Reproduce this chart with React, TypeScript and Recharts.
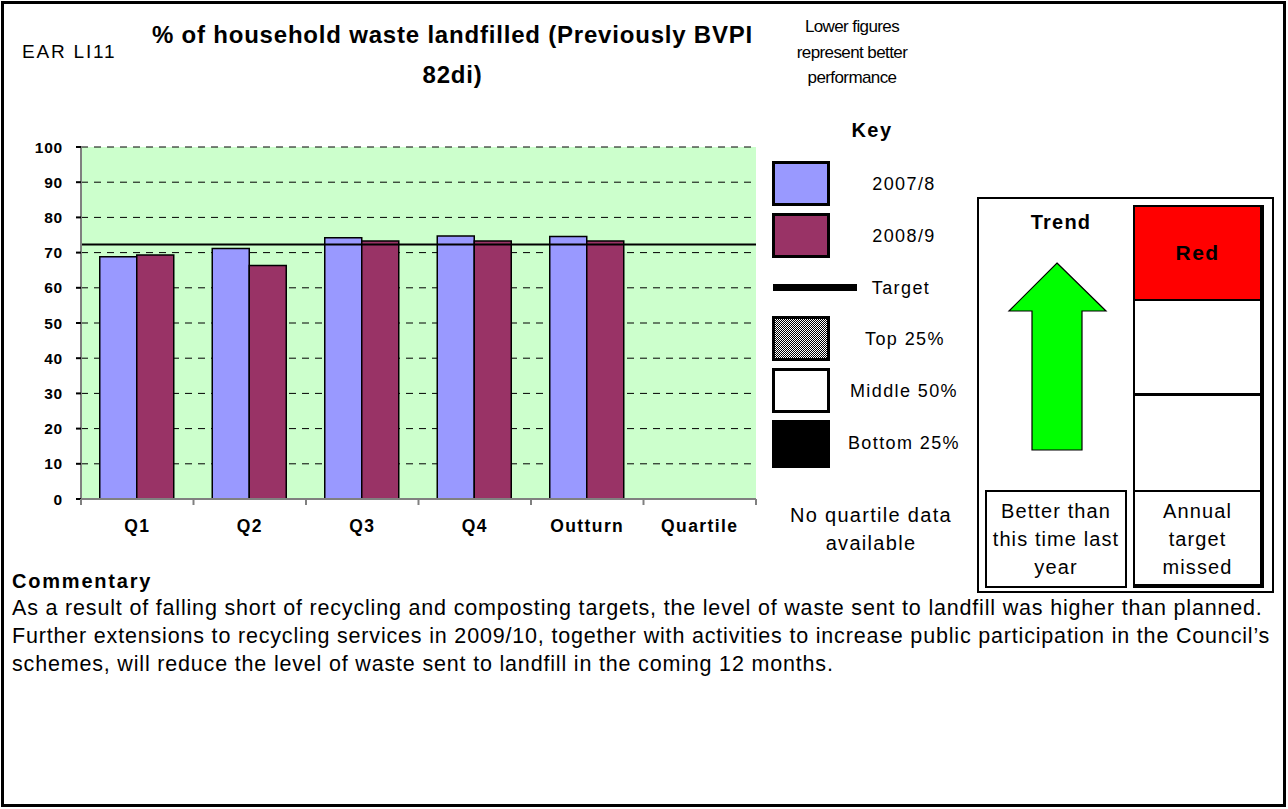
import React from 'react';
import {
  BarChart,
  Bar,
  XAxis,
  YAxis,
  CartesianGrid,
  ReferenceLine,
} from 'recharts';

const CATEGORIES = ['Q1', 'Q2', 'Q3', 'Q4', 'Outturn', 'Quartile'];
const SERIES_2007 = [68.8, 71.2, 74.2, 74.7, 74.6, null];
const SERIES_2008 = [69.3, 66.3, 73.3, 73.3, 73.3, null];
const TARGET = 72.3;
const Y_TICKS = [0, 10, 20, 30, 40, 50, 60, 70, 80, 90, 100];

const FONT = '"Liberation Sans", Arial, sans-serif';

const chartData = CATEGORIES.map((name, i) => ({
  name,
  y2007: SERIES_2007[i],
  y2008: SERIES_2008[i],
}));

const BAND = 675 / CATEGORIES.length;

// Excel-style ticks sit between categories, labels in the middle
function CategoryTick(props: any) {
  const { x, y, payload, index } = props;
  return (
    <g>
      {index === 0 && <line x1={x - BAND / 2} y1={y - 8} x2={x - BAND / 2} y2={y - 2} stroke="#808080" strokeWidth={2} />}
      <line x1={x + BAND / 2} y1={y - 8} x2={x + BAND / 2} y2={y - 2} stroke="#808080" strokeWidth={2} />
      <text
        x={x}
        y={y + 25}
        textAnchor="middle"
        fontFamily={FONT}
        fontWeight="bold"
        fontSize={17.5}
        style={{ letterSpacing: '1.4px' }}
        fill="#000"
      >
        {payload.value}
      </text>
    </g>
  );
}

function ValueTick(props: any) {
  const { x, y, payload } = props;
  return (
    <text
      x={x - 11}
      y={y + 5.5}
      textAnchor="end"
      fontFamily={FONT}
      fontWeight="bold"
      fontSize={15.5}
      style={{ letterSpacing: '0.8px' }}
      fill="#000"
    >
      {payload.value}
    </text>
  );
}

const abs = (left: number, top: number, extra: React.CSSProperties = {}): React.CSSProperties => ({
  position: 'absolute',
  left,
  top,
  ...extra,
});

function Swatch({ top, style }: { top: number; style: React.CSSProperties }) {
  return (
    <div
      style={abs(772, top, {
        width: 58,
        height: 45,
        boxSizing: 'border-box',
        border: '3px solid #000',
        ...style,
      })}
    />
  );
}

function KeyLabel({ cx, cy, text }: { cx: number; cy: number; text: string }) {
  return (
    <div
      style={abs(cx - 80, cy - 11, {
        width: 160,
        textAlign: 'center',
        fontSize: 18,
        letterSpacing: '1.4px',
        lineHeight: '22px',
      })}
    >
      {text}
    </div>
  );
}

export default function App() {
  return (
    <div
      style={{
        position: 'fixed',
        left: 0,
        top: 0,
        width: 1288,
        height: 809,
        background: '#fff',
        fontFamily: FONT,
        color: '#000',
      }}
    >
      {/* outer frame */}
      <div style={abs(1, 1, { width: 1285, height: 806, boxSizing: 'border-box', border: '3px solid #000' })} />

      {/* header */}
      <div style={abs(22, 41, { fontSize: 19, letterSpacing: '1.8px', lineHeight: '22px' })}>EAR LI11</div>
      <div
        style={abs(130, 15, {
          width: 645,
          textAlign: 'center',
          fontSize: 24,
          fontWeight: 'bold',
          letterSpacing: '0.8px',
          lineHeight: '40px',
          whiteSpace: 'nowrap',
        })}
      >
        % of household waste landfilled (Previously BVPI
        <br />
        82di)
      </div>
      <div
        style={abs(762, 14, {
          width: 180,
          textAlign: 'center',
          fontSize: 17,
          letterSpacing: '-0.6px',
          lineHeight: '25.5px',
          whiteSpace: 'nowrap',
        })}
      >
        Lower figures
        <br />
        represent better
        <br />
        performance
      </div>

      {/* chart */}
      <div style={abs(0, 130)}>
        <BarChart
          width={770}
          height={420}
          data={chartData}
          margin={{ top: 17, right: 14, bottom: 21, left: 41 }}
          barCategoryGap="16.67%"
          barGap={0}
        >
          <CartesianGrid
            vertical={false}
            fill="#ccffcc"
            stroke="#000"
            strokeDasharray="7 6"
            strokeWidth={1}
          />
          <XAxis
            dataKey="name"
            height={30}
            stroke="#808080"
            strokeWidth={2}
            tickLine={false}
            interval={0}
            tick={<CategoryTick />}
          />
          <YAxis
            width={40}
            domain={[0, 100]}
            ticks={Y_TICKS}
            interval={0}
            stroke="#808080"
            strokeWidth={2}
            tickSize={5}
            tickLine={{ stroke: '#000' }}
            tick={<ValueTick />}
          />
          <Bar dataKey="y2007" fill="#9999ff" stroke="#000" strokeWidth={1.5} isAnimationActive={false} />
          <Bar dataKey="y2008" fill="#993366" stroke="#000" strokeWidth={1.5} isAnimationActive={false} />
          <ReferenceLine y={TARGET} stroke="#000" strokeWidth={2} />
        </BarChart>
      </div>

      {/* key */}
      <div style={abs(812, 118, { width: 120, textAlign: 'center', fontSize: 20, fontWeight: 'bold', letterSpacing: '1.5px', lineHeight: '24px' })}>
        Key
      </div>
      <Swatch top={161} style={{ background: '#9999ff' }} />
      <KeyLabel cx={904} cy={184} text="2007/8" />
      <Swatch top={213} style={{ background: '#993366' }} />
      <KeyLabel cx={904} cy={236} text="2008/9" />
      <div style={abs(773, 284, { width: 84, height: 7, background: '#000' })} />
      <KeyLabel cx={901} cy={288} text="Target" />
      <Swatch
        top={316}
        style={{ background: 'repeating-conic-gradient(#000 0 25%, #fff 0 50%) 0 0 / 2px 2px' }}
      />
      <KeyLabel cx={905} cy={339} text="Top 25%" />
      <Swatch top={368} style={{ background: '#fff' }} />
      <KeyLabel cx={904} cy={391} text="Middle 50%" />
      <Swatch top={420} style={{ background: '#000', height: 48 }} />
      <KeyLabel cx={904} cy={443} text="Bottom 25%" />
      <div style={abs(781, 501, { width: 180, textAlign: 'center', fontSize: 20, letterSpacing: '1.3px', lineHeight: '28px' })}>
        No quartile data
        <br />
        available
      </div>

      {/* trend / status box */}
      <div style={abs(977, 197, { width: 297, height: 396, boxSizing: 'border-box', border: '2px solid #000' })} />
      <div style={abs(1001, 209, { width: 120, textAlign: 'center', fontSize: 20, fontWeight: 'bold', letterSpacing: '1.2px', lineHeight: '26px' })}>
        Trend
      </div>
      <svg style={abs(1000, 255)} width={120} height={200}>
        <polygon
          points="57,8 106,56 82,56 82,195 32,195 32,56 9,56"
          fill="#00ff00"
          stroke="#000"
          strokeWidth={1.2}
        />
      </svg>
      <div
        style={abs(1133, 205, {
          width: 131,
          height: 96,
          boxSizing: 'border-box',
          background: '#ff0000',
          border: '2px solid #000',
          borderRight: '4px solid #000',
          textAlign: 'center',
          fontSize: 21,
          fontWeight: 'bold',
          letterSpacing: '1.4px',
          lineHeight: '92px',
        })}
      >
        Red
      </div>
      <div style={abs(1133, 299, { width: 131, height: 97, boxSizing: 'border-box', border: '2px solid #000', borderRight: '4px solid #000', borderBottom: '3px solid #000' })} />
      <div style={abs(1133, 394, { width: 131, height: 98, boxSizing: 'border-box', border: '2px solid #000', borderRight: '4px solid #000' })} />
      <div
        style={abs(985, 490, {
          width: 142,
          height: 98,
          boxSizing: 'border-box',
          border: '2px solid #000',
          textAlign: 'center',
          fontSize: 20,
          letterSpacing: '1.1px',
          lineHeight: '28px',
          paddingTop: 5,
          whiteSpace: 'nowrap',
        })}
      >
        Better than
        <br />
        this time last
        <br />
        year
      </div>
      <div
        style={abs(1133, 490, {
          width: 131,
          height: 98,
          boxSizing: 'border-box',
          border: '2px solid #000',
          borderRight: '4px solid #000',
          borderBottom: '4px solid #000',
          textAlign: 'center',
          fontSize: 20,
          letterSpacing: '1.1px',
          lineHeight: '28px',
          paddingTop: 5,
        })}
      >
        Annual
        <br />
        target
        <br />
        missed
      </div>

      {/* commentary */}
      <div style={abs(12, 568, { fontSize: 20, fontWeight: 'bold', letterSpacing: '1.8px', lineHeight: '26px' })}>Commentary</div>
      <div style={abs(12, 594, { fontSize: 21.5, letterSpacing: '0.82px', lineHeight: '28px', whiteSpace: 'nowrap' })}>
        As a result of falling short of recycling and composting targets, the level of waste sent to landfill was higher than planned.
        <br />
        Further extensions to recycling services in 2009/10, together with activities to increase public participation in the Council’s
        <br />
        schemes, will reduce the level of waste sent to landfill in the coming 12 months.
      </div>
    </div>
  );
}
